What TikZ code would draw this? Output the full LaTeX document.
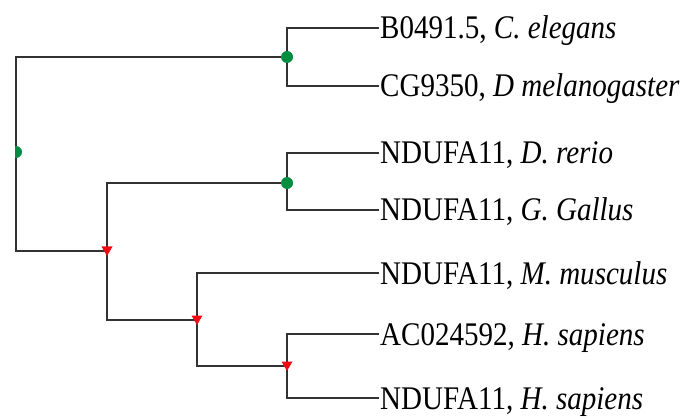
\documentclass[tikz,border=0pt]{standalone}
\usepackage{graphicx}
\usepackage{fontspec}
\setmainfont{Liberation Serif}
\definecolor{nodegreen}{RGB}{0,140,65}
\definecolor{nodered}{RGB}{240,10,20}
\definecolor{branch}{RGB}{50,50,50}
\newcommand{\leaftext}[2]{\scalebox{0.88}[1]{#1, \textit{#2}}}
\tikzset{
  branchline/.style={draw=branch, line width=1.8pt, line cap=rect},
  leaflabel/.style={anchor=base west, inner sep=0pt, font=\fontsize{33}{36}\selectfont},
  greendot/.pic={\fill[nodegreen] (0,0) circle (6);},
  redmark/.pic={\fill[nodered] (-5.5,-4.5) -- (5.5,-4.5) -- (0,5) -- cycle;}
}
\begin{document}
\begin{tikzpicture}[x=1pt,y=-1pt]
\useasboundingbox (0,0) rectangle (692,419);
% leaf ends
\coordinate (l1) at (378,28);
\coordinate (l2) at (378,86);
\coordinate (l3) at (378,153);
\coordinate (l4) at (378,210);
\coordinate (l5) at (378,273);
\coordinate (l6) at (378,334);
\coordinate (l7) at (378,398);
% internal nodes
\coordinate (n1) at (287,57);
\coordinate (n2) at (287,183);
\coordinate (root) at (16,152);
\coordinate (na) at (107,251);
\coordinate (nb) at (197,320);
\coordinate (nc) at (287,366);
% labels
\node[leaflabel] (t1) at (380,39) {\leaftext{B0491.5}{C. elegans}};
\node[leaflabel] (t2) at (380,97) {\leaftext{CG9350}{D melanogaster}};
\node[leaflabel] (t3) at (380,164) {\leaftext{NDUFA11}{D. rerio}};
\node[leaflabel] (t4) at (380,221) {\leaftext{NDUFA11}{G. Gallus}};
\node[leaflabel] (t5) at (380,284) {\leaftext{NDUFA11}{M. musculus}};
\node[leaflabel] (t6) at (380,345) {\leaftext{AC024592}{H. sapiens}};
\node[leaflabel] (t7) at (380,409) {\leaftext{NDUFA11}{H. sapiens}};
% branches
\draw[branchline] (l1) -| (n1) |- (l2);
\draw[branchline] (l3) -| (n2) |- (l4);
\draw[branchline] (n1) -| (root) |- (na);
\draw[branchline] (n2) -| (na) |- (nb);
\draw[branchline] (l5) -| (nb) |- (nc);
\draw[branchline] (l6) -| (nc) |- (l7);
% markers
\pic at (n1) {greendot};
\pic at (n2) {greendot};
\begin{scope}
  \clip (15,140) rectangle (30,165);
  \pic at (root) {greendot};
\end{scope}
\pic at (na) {redmark};
\pic at (nb) {redmark};
\pic at (nc) {redmark};
\end{tikzpicture}
\end{document}
